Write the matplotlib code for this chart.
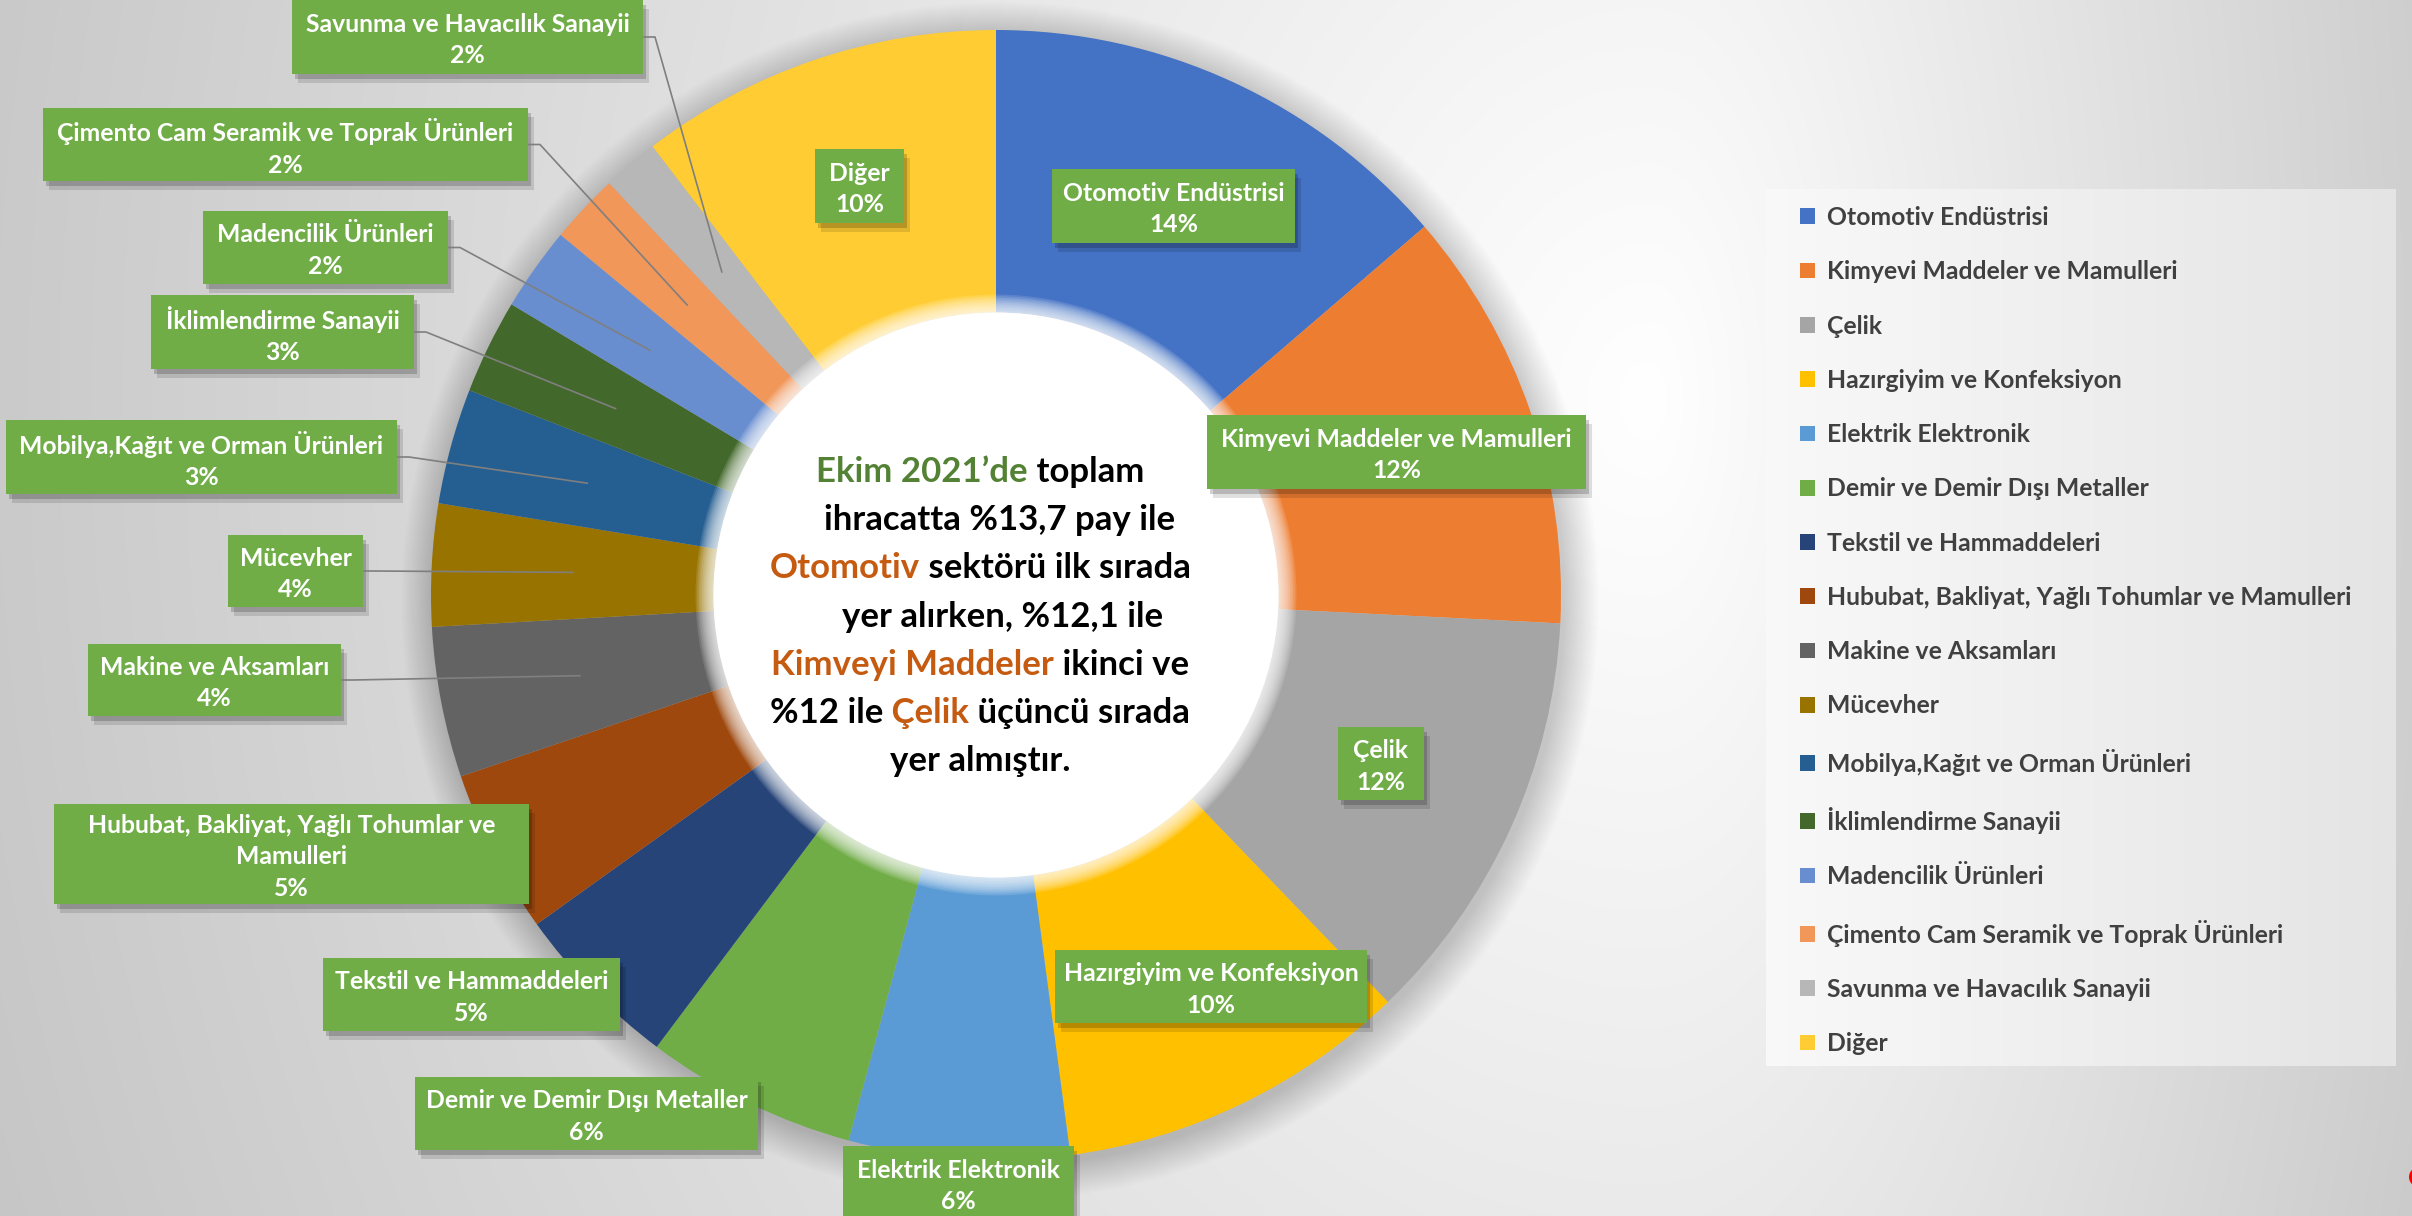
import textwrap
import matplotlib.pyplot as plt
import numpy as np
from matplotlib.patches import Rectangle, Circle

plt.rcParams['font.family'] = ['Lato', 'DejaVu Sans']

W, H = 2412, 1216

# Data
sectors = ["Otomotiv Endüstrisi", "Kimyevi Maddeler ve Mamulleri", "Çelik",
           "Hazırgiyim ve Konfeksiyon", "Elektrik Elektronik",
           "Demir ve Demir Dışı Metaller", "Tekstil ve Hammaddeleri",
           "Hububat, Bakliyat, Yağlı Tohumlar ve Mamulleri", "Makine ve Aksamları",
           "Mücevher", "Mobilya,Kağıt ve Orman Ürünleri", "İklimlendirme Sanayii",
           "Madencilik Ürünleri", "Çimento Cam Seramik ve Toprak Ürünleri",
           "Savunma ve Havacılık Sanayii", "Diğer"]
shares = [13.7, 12.1, 12.0, 10.1, 6.3, 6.05, 4.85, 4.7, 4.3, 3.5, 3.3, 2.7, 2.4, 2.0, 1.6, 10.4]
colors = ["#4472C4", "#ED7D31", "#A5A5A5", "#FFC000", "#5B9BD5", "#70AD47", "#264478",
          "#9E480E", "#636363", "#997300", "#255E91", "#43682B", "#698ED0", "#F1975A",
          "#B7B7B7", "#FFCD33"]

# label boxes in pixel coords (x0, y0 from top, x1, y1)
label_boxes = [(1052, 169, 1295, 243), (1207, 415, 1586, 489), (1338, 727, 1424, 800),
               (1055, 950, 1367, 1023), (843, 1146, 1074, 1220), (415, 1077, 758, 1150),
               (323, 958, 620, 1031), (54, 804, 529, 904), (88, 644, 341, 716),
               (228, 535, 363, 607), (6, 420, 397, 494), (151, 295, 414, 369),
               (203, 211, 448, 284), (43, 108, 528, 181), (292, 0, 643, 74),
               (815, 149, 904, 223)]
with_leader = [8, 9, 10, 11, 12, 13, 14]

center_lines = [
    [("Ekim 2021’de", "#548235"), (" toplam", "black")],
    [("ihracatta %13,7 pay ile", "black")],
    [("Otomotiv", "#C55A11"), (" sektörü ilk sırada", "black")],
    [("yer alırken, %12,1 ile", "black")],
    [("Kimveyi Maddeler", "#C55A11"), (" ikinci ve", "black")],
    [("%12 ile", "black"), (" Çelik", "#C55A11"), (" üçüncü sırada", "black")],
    [("yer almıştır.", "black")],
]
line_centers = [980, 1000, 980, 1003, 980, 980, 980]


def Y(y):
    return H - y


fig = plt.figure(figsize=(W / 100, H / 100), dpi=100)
ax = fig.add_axes([0, 0, 1, 1])

# background gradient
yy, xx = np.mgrid[0:H, 0:W]
dx = (xx - 1650) / np.where(xx < 1650, 1750, 900)
dy = (yy - 400) / 2200
g = np.clip(1 - 0.22 * np.sqrt(dx ** 2 + dy ** 2), 0.75, 1)
ax.imshow(np.dstack([g, g, g]), extent=(0, W, 0, H), origin='upper', aspect='auto', zorder=0)

# legend panel gradient
lx0, ly0, lx1, ly1 = 1766, 189, 2396, 1066
lg = np.linspace(0.975, 0.895, 200)[None, :] * np.ones((10, 1))
ax.imshow(np.dstack([lg, lg, lg]), extent=(lx0, lx1, Y(ly1), Y(ly0)), aspect='auto', zorder=0.2)

cx, cy, R = 996, Y(595), 565

# soft shadow around the ring
for k in np.linspace(0, 34, 24):
    ax.add_patch(Circle((cx + 4, cy - 6), R + k, color='black', alpha=0.006, lw=0, zorder=0.5))

wedges, _ = ax.pie(shares, colors=colors, startangle=90, counterclock=False, radius=R,
                   center=(cx, cy), wedgeprops=dict(width=R / 2, linewidth=0))

# inner white disc with a light glow
for k in np.linspace(18, 0, 12):
    ax.add_patch(Circle((cx, cy), R / 2 + k, color='white', alpha=0.12, lw=0, zorder=2))
ax.add_patch(Circle((cx, cy), R / 2, color='white', lw=0, zorder=2.1))

# data labels
for i, (name, v, w) in enumerate(zip(sectors, shares, wedges)):
    x0, y0, x1, y1 = label_boxes[i]
    bw, bh = x1 - x0, y1 - y0
    for off, a in [((3, 5), 0.18), ((6, 9), 0.12)]:
        ax.add_patch(Rectangle((x0 + off[0], Y(y1) - off[1]), bw, bh, color='black',
                               alpha=a, lw=0, zorder=3))
    ax.add_patch(Rectangle((x0, Y(y1)), bw, bh, color='#70AD47', lw=0, zorder=4))
    txt = textwrap.fill(name, 36) if len(name) > 40 else name
    ax.text((x0 + x1) / 2, Y((y0 + y1) / 2 + 3), f"{txt}\n{round(v)}%", ha='center',
            va='center', multialignment='center', color='white', fontsize=17.8,
            fontweight='bold', linespacing=1.45, zorder=5)
    if i in with_leader:
        mid = np.deg2rad((w.theta1 + w.theta2) / 2)
        ex, ey = cx + 0.75 * R * np.cos(mid), cy + 0.75 * R * np.sin(mid)
        by = Y((y0 + y1) / 2)
        ax.plot([x1, x1 + 12, ex], [by, by, ey], color='#7f7f7f', lw=1.2, zorder=3.5)

# centre text, coloured runs
renderer = fig.canvas.get_renderer()
for j, parts in enumerate(center_lines):
    ly = Y(472 + j * 48.2)
    texts = [ax.text(0, ly, s, color=c, ha='left', va='center', fontsize=25,
                     fontweight='bold', zorder=6) for s, c in parts]
    widths = [t.get_window_extent(renderer).width for t in texts]
    left = line_centers[j] - sum(widths) / 2
    for t, wd in zip(texts, widths):
        t.set_x(left)
        left += wd

leg = ax.legend(wedges, sectors, loc='upper left', bbox_to_anchor=(1800 / W, 1 - 206 / H),
                frameon=False, prop=dict(family='Lato', weight='bold', size=17.8),
                labelcolor='#404040', handlelength=0.6, handleheight=0.6,
                handletextpad=0.5, labelspacing=1.265, borderaxespad=0, borderpad=0)

ax.add_patch(Circle((2419, Y(1177)), 10, color='red', lw=0, zorder=1))

ax.set_xlim(0, W)
ax.set_ylim(0, H)
ax.axis('off')

fig.savefig('out.png', dpi=100)
